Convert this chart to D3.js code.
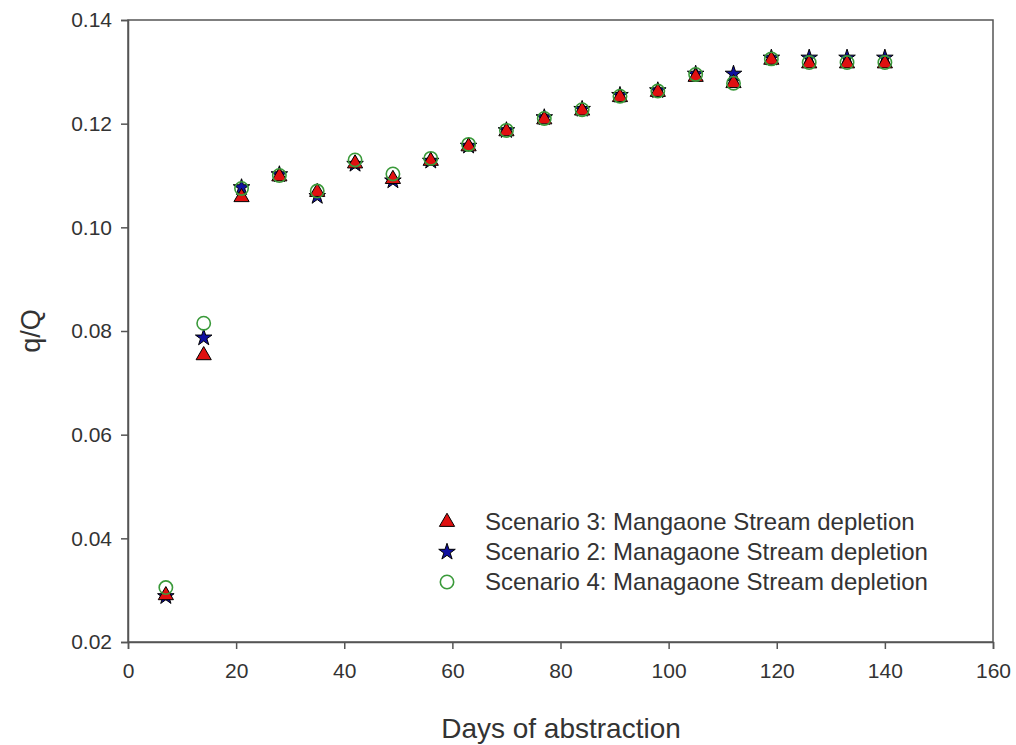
<!DOCTYPE html>
<html>
<head>
<meta charset="utf-8">
<script src="https://cdn.jsdelivr.net/npm/d3@7"></script>
<style>
  body { margin: 0; background: #fff; }
  svg { font-family: "Liberation Sans", Arial, sans-serif; }
</style>
</head>
<body>
<svg width="1016" height="745"></svg>
<script>
// days of abstraction
const days = [7, 14, 21, 28, 35, 42, 49, 56, 63, 70, 77, 84, 91, 98, 105, 112, 119, 126, 133, 140];

// q/Q per scenario
const scenario3 = [0.0292, 0.0755, 0.1060, 0.1100, 0.1070, 0.1125, 0.1095, 0.1130, 0.1158, 0.1187, 0.1210, 0.1227, 0.1253, 0.1263, 0.1292, 0.1280, 0.1325, 0.1318, 0.1318, 0.1318];
const scenario2 = [0.0288, 0.0787, 0.1077, 0.1102, 0.1060, 0.1122, 0.1090, 0.1128, 0.1157, 0.1187, 0.1212, 0.1228, 0.1255, 0.1264, 0.1296, 0.1296, 0.1327, 0.1327, 0.1327, 0.1327];
const scenario4 = [0.0305, 0.0815, 0.1075, 0.1100, 0.1070, 0.1130, 0.1103, 0.1133, 0.1160, 0.1187, 0.1210, 0.1227, 0.1253, 0.1263, 0.1295, 0.1278, 0.1325, 0.1318, 0.1318, 0.1318];

const xTicks = [0, 20, 40, 60, 80, 100, 120, 140, 160];
const yTicks = [0.02, 0.04, 0.06, 0.08, 0.10, 0.12, 0.14];

const legendLabels = [
  "Scenario 3: Mangaone Stream depletion",
  "Scenario 2: Managaone Stream depletion",
  "Scenario 4: Managaone Stream depletion"
];

const margin = { top: 20, right: 23, bottom: 103, left: 128 };
const width = 1016, height = 745;

const svg = d3.select("svg");

const x = d3.scaleLinear().domain([0, 160]).range([margin.left, width - margin.right]);
const y = d3.scaleLinear().domain([0.02, 0.14]).range([height - margin.bottom, margin.top]);

// frame
svg.append("rect")
  .attr("x", margin.left).attr("y", margin.top)
  .attr("width", x(160) - x(0)).attr("height", y(0.02) - y(0.14))
  .attr("fill", "none").attr("stroke", "#555").attr("stroke-width", 1.5);

const xAxis = svg.append("g")
  .attr("transform", `translate(0,${y(0.02)})`)
  .call(d3.axisBottom(x).tickValues(xTicks).tickSize(7).tickPadding(14).tickFormat(d3.format("d")));

const yAxis = svg.append("g")
  .attr("transform", `translate(${x(0)},0)`)
  .call(d3.axisLeft(y).tickValues(yTicks).tickSize(7).tickPadding(9).tickFormat(d3.format(".2f")));

[xAxis, yAxis].forEach(g => {
  g.select(".domain").attr("stroke", "#555").attr("stroke-width", 1.5);
  g.selectAll(".tick line").attr("stroke", "#555").attr("stroke-width", 1.5);
  g.selectAll(".tick text").attr("fill", "#333").style("font-size", "21px");
});

// axis titles
svg.append("text")
  .attr("x", 561).attr("y", 738)
  .attr("text-anchor", "middle")
  .attr("fill", "#333").style("font-size", "28px")
  .text("Days of abstraction");

svg.append("text")
  .attr("transform", `translate(40,${y(0.08)}) rotate(-90)`)
  .attr("text-anchor", "middle")
  .attr("fill", "#333").style("font-size", "27px")
  .text("q/Q");

const tri = d3.symbol().type(d3.symbolTriangle).size(100);
const star = d3.symbol().type(d3.symbolStar).size(85);
const circ = d3.symbol().type(d3.symbolCircle).size(140);

const pts = s => days.map((d, i) => ({ d, v: s[i] }));

// stars
svg.append("g").selectAll("path")
  .data(pts(scenario2)).join("path")
  .attr("d", star)
  .attr("transform", p => `translate(${x(p.d)},${y(p.v)})`)
  .attr("fill", "#1010a0").attr("stroke", "#000").attr("stroke-width", 1);

// triangles
svg.append("g").selectAll("path")
  .data(pts(scenario3)).join("path")
  .attr("d", tri)
  .attr("transform", p => `translate(${x(p.d)},${y(p.v) + 1})`)
  .attr("fill", "#e01010").attr("stroke", "#000").attr("stroke-width", 1);

// circles
svg.append("g").selectAll("path")
  .data(pts(scenario4)).join("path")
  .attr("d", circ)
  .attr("transform", p => `translate(${x(p.d)},${y(p.v)})`)
  .attr("fill", "none").attr("stroke", "#3a9a3a").attr("stroke-width", 1.6);

// legend
const legend = svg.append("g").attr("transform", "translate(447,522)");
const legendSyms = [
  { sym: tri, fill: "#e01010", stroke: "#000", sw: 1 },
  { sym: star, fill: "#1010a0", stroke: "#000", sw: 1 },
  { sym: circ, fill: "none", stroke: "#3a9a3a", sw: 1.6 }
];
legendLabels.forEach((lab, i) => {
  const row = legend.append("g").attr("transform", `translate(0,${i * 30})`);
  const s = legendSyms[i];
  row.append("path").attr("d", s.sym)
    .attr("fill", s.fill).attr("stroke", s.stroke).attr("stroke-width", s.sw);
  row.append("text")
    .attr("x", 38).attr("y", 8)
    .attr("fill", "#333").style("font-size", "24px")
    .text(lab);
});
</script>
</body>
</html>
